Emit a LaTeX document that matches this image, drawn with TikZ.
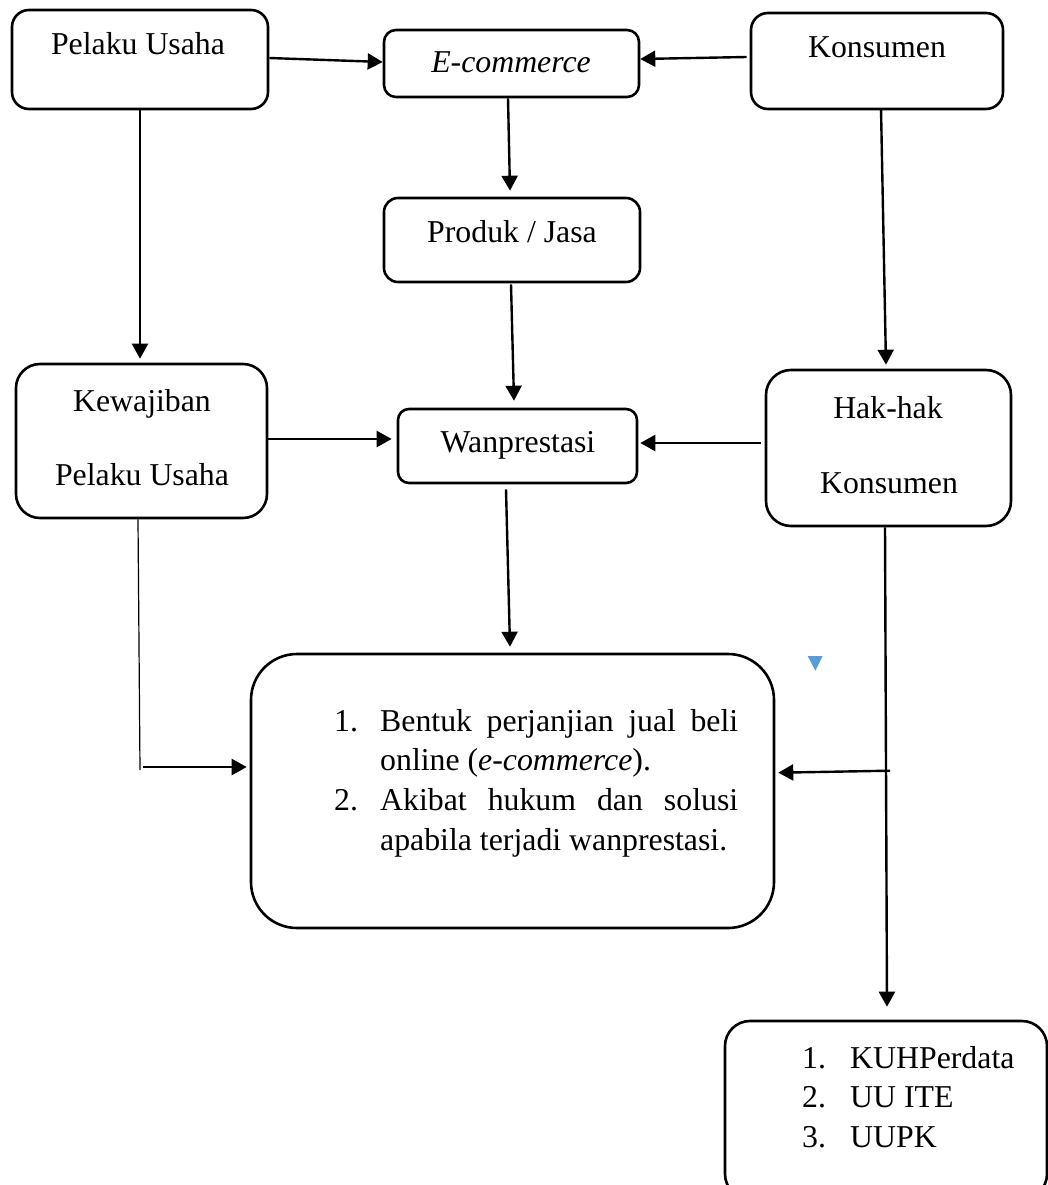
\documentclass[tikz,border=0pt]{standalone}
\usepackage{fontspec}
\setmainfont{Liberation Serif}
\usetikzlibrary{arrows.meta,calc}
\definecolor{markblue}{HTML}{5B9BD5}
\begin{document}
\begin{tikzpicture}[x=1pt,y=-1pt,
  box/.style={draw, line width=2.6pt, rounded corners=#1, inner sep=0pt},
  box/.default=15pt,
  txt/.style={font=\fontsize{31.8}{40}\selectfont, inner sep=0pt, anchor=base},
  arr/.style={line width=2.4pt, -{Triangle[length=15pt,width=16pt]}},
  thin/.style={line width=1.2pt},
]
\useasboundingbox (0,0) rectangle (1048,1185);
\clip (0,0) rectangle (1048,1185);

% boxes
\node[box=17pt, minimum width=256pt, minimum height=99pt] (pu) at (140,59.5) {};
\node[box=12pt, minimum width=255pt, minimum height=67pt] (ec) at (511.5,63.5) {};
\node[box=17pt, minimum width=252pt, minimum height=96pt] (ko) at (877,61) {};
\node[box=14pt, minimum width=256pt, minimum height=84pt] (pj) at (512,240) {};
\node[box=24pt, minimum width=251pt, minimum height=154pt] (kw) at (141.5,441) {};
\node[box=11pt, minimum width=239pt, minimum height=74pt] (wp) at (517.5,446) {};
\node[box=25pt, minimum width=245pt, minimum height=156pt] (hk) at (888.5,448) {};
\node[box=46pt, minimum width=523pt, minimum height=274pt] (big) at (512.5,791) {};
\node[box=25pt, minimum width=322pt, minimum height=178pt] (bot) at (886,1110) {};

% texts
\node[txt] (pu-t) at (138,55) {Pelaku Usaha};
\node[txt] (ec-t) at (511,73) {\textit{E-commerce}};
\node[txt] (ko-t) at (877,58) {Konsumen};
\node[txt] (pj-t) at (512,242) {Produk / Jasa};
\node[txt] (kw-t1) at (142,411) {Kewajiban};
\node[txt] (kw-t2) at (142,485) {Pelaku Usaha};
\node[txt] (wp-t) at (518,452) {Wanprestasi};
\node[txt] (hk-t1) at (888,418) {Hak-hak};
\node[txt] (hk-t2) at (889,493) {Konsumen};

\node[txt, anchor=base west] (b1n) at (334,731) {1.};
\node[txt, anchor=base west] (b1) at (380,731) {\makebox[358pt][s]{Bentuk perjanjian jual beli}};
\node[txt, anchor=base west] (b2) at (380,770) {online (\textit{e-commerce}).};
\node[txt, anchor=base west] (b3n) at (334,810) {2.};
\node[txt, anchor=base west] (b3) at (380,810) {\makebox[358pt][s]{Akibat hukum dan solusi}};
\node[txt, anchor=base west] (b4) at (380,850) {apabila terjadi wanprestasi.};

\node[txt, anchor=base west] (l1n) at (802,1068) {1.};
\node[txt, anchor=base west] (l1) at (850,1068) {KUHPerdata};
\node[txt, anchor=base west] (l2n) at (802,1107) {2.};
\node[txt, anchor=base west] (l2) at (850,1107) {UU ITE};
\node[txt, anchor=base west] (l3n) at (802,1147) {3.};
\node[txt, anchor=base west] (l3) at (850,1147) {UUPK};

% free ends
\coordinate (kwc) at (140,770);
\coordinate (kwa) at (143,767);
\coordinate (hka) at (890,770.7);

% connectors
\draw[arr] ([yshift=1.5pt]pu.east) -- ([yshift=1.5pt]ec.west);
\draw[arr] ([xshift=-3pt,yshift=4pt]ko.west) -- ([yshift=4.5pt]ec.east);
\draw[arr] ([xshift=-3.5pt]ec.south) -- ([xshift=-2pt,yshift=6pt]pj.north);
\draw[arr] (pu.south) -- ([xshift=-1.5pt,yshift=4pt]kw.north);
\draw[arr] ([xshift=4pt,yshift=2pt]ko.south) -- ([xshift=-2.5pt,yshift=4pt]hk.north);
\draw[arr] ([xshift=-1pt,yshift=-1pt]pj.south) -- ([xshift=-3.5pt,yshift=7pt]wp.north);
\draw[arr] ([yshift=2pt]kw.east) -- ([xshift=-5pt,yshift=7pt]wp.west);
\draw[arr] ([xshift=-4pt,yshift=5pt]hk.west) -- ([xshift=2pt,yshift=3pt]wp.east);
\draw[arr] ([xshift=-11.5pt,yshift=-5pt]wp.south) -- ([xshift=-2.5pt,yshift=6pt]big.north);
\draw[thin] ([xshift=-3.5pt]kw.south) -- (kwc);
\draw[arr] (kwa) -- ([xshift=-3pt,yshift=24pt]big.west);
\draw[arr] ([xshift=-3.5pt]hk.south) -- ([xshift=1pt,yshift=13pt]bot.north);
\draw[arr] (hka) -- ([xshift=3pt,yshift=18.3pt]big.east);

% small blue marker
\fill[markblue] (807.7,656) -- (822.7,656) -- (815.3,670.7) -- cycle;
\end{tikzpicture}
\end{document}
